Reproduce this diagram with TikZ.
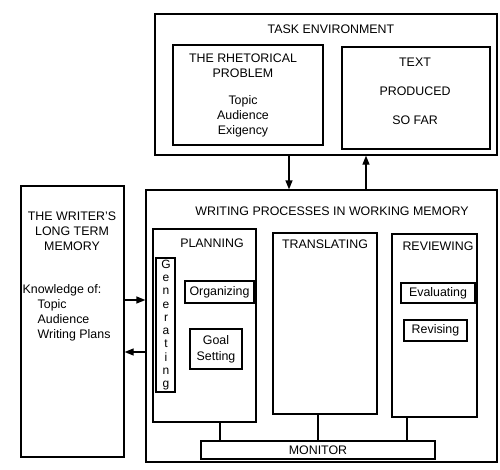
\documentclass[tikz,border=0pt]{standalone}
\usepackage{fontspec}
\setmainfont{Liberation Sans}
\usetikzlibrary{arrows.meta,fit}

\begin{document}
\begin{tikzpicture}[x=1pt,y=-1pt,line width=1.3pt,>={Triangle[length=9pt,width=7pt]},
  font=\fontsize{12.4}{15}\selectfont]
\tikzset{box/.style={draw,inner sep=0pt,fit={#1}},
  lbl/.style={inner sep=0pt,align=center}}
\useasboundingbox (0,0) rectangle (500,469);
% ---- task environment ----
\node[box={(155,14) (497,155)}] (task) {};
\node[box={(173,45) (323,145)}] (rhet) {};
\node[box={(342,47) (490,149)}] (sofar) {};
\node[lbl] (tasktitle) at (331,29) {TASK ENVIRONMENT};
\node[lbl] (rhettitle) at (243,65.5) {THE RHETORICAL\\PROBLEM};
\node[lbl] (rhetitems) at (243,116) {Topic\\Audience\\Exigency};
\node[lbl,font=\fontsize{12.4}{29}\selectfont] (sofartext) at (415,91) {TEXT\\PRODUCED\\SO FAR};
% ---- long term memory ----
\node[box={(21,186) (124,457)}] (ltm) {};
\node[lbl] (ltmtitle) at (72,231) {THE WRITER'S\\LONG TERM\\MEMORY};
\node[lbl,anchor=west] (know) at (22,290) {Knowledge of:};
\node[lbl,align=left] (knowitems) at (37,320) [anchor=west] {Topic\\Audience\\Writing Plans};
% ---- writing processes ----
\node[box={(146,190) (497,462)}] (wp) {};
\node[lbl] (wptitle) at (332,211) {WRITING PROCESSES IN WORKING MEMORY};
\node[box={(153,229) (256,422)}] (plan) {};
\node[box={(273,233) (377,414)}] (trans) {};
\node[box={(392,234) (477,417)}] (rev) {};
\node[lbl] (plantitle) at (212,243) {PLANNING};
\node[lbl] (transtitle) at (325,244) {TRANSLATING};
\node[lbl] (revtitle) at (438,246) {REVIEWING};
\node[box={(156,258) (175,392)}] (gen) {};
\node[lbl,font=\fontsize{12}{13.3}\selectfont] (gentext) at (166,325) {G\\e\\n\\e\\r\\a\\t\\i\\n\\g};
\node[box={(185,281) (254,303)}] (org) {};
\node[lbl] (orgtext) at (org) {Organizing};
\node[box={(190,329) (242,369)}] (goal) {};
\node[lbl,font=\fontsize{12.4}{16}\selectfont] (goaltext) at (goal) {Goal\\Setting};
\node[box={(401,283) (475,303)}] (eval) {};
\node[lbl] (evaltext) at (eval) {Evaluating};
\node[box={(404,320) (467,341)}] (revis) {};
\node[lbl] (revistext) at (revis) {Revising};
\node[box={(201,441) (435,459)}] (mon) {};
\node[lbl] (montext) at (mon) {MONITOR};
% ---- connectors ----
\draw[->] ([xshift=-37pt]task.south) -- ([xshift=-37pt]task.south |- wp.north);
\draw[->] ([xshift=40pt]task.south |- wp.north) -- ([xshift=40pt]task.south);
\draw[->] ([yshift=21.5pt]ltm.east) -- ([yshift=21.5pt]ltm.east -| wp.west);
\draw[->] ([yshift=-30.5pt]ltm.east -| wp.west) -- ([yshift=-30.5pt]ltm.east);
\draw ([xshift=15.5pt]plan.south) -- ([xshift=15.5pt]plan.south |- mon.north);
\draw ([xshift=-7pt]trans.south) -- ([xshift=-7pt]trans.south |- mon.north);
\draw ([xshift=-27.5pt]rev.south) -- ([xshift=-27.5pt]rev.south |- mon.north);
\end{tikzpicture}
\end{document}
